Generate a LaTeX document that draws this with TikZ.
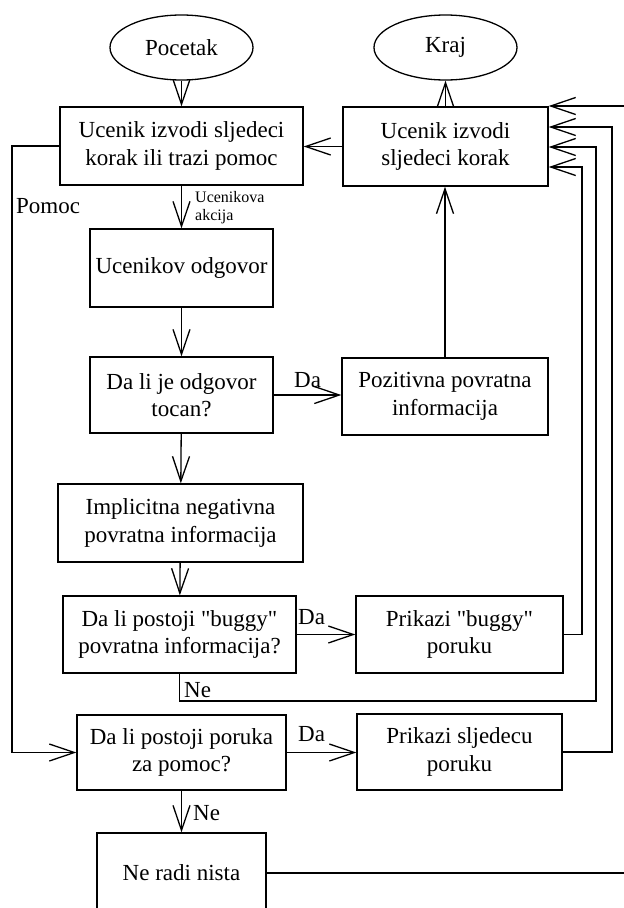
\documentclass[tikz,border=0pt]{standalone}
\usepackage{fontspec}
\setmainfont{Liberation Serif}[Ligatures=TeXOff]
\usetikzlibrary{shapes.geometric,arrows.meta}
\begin{document}
\begin{tikzpicture}[x=1pt,y=-1pt,
  every node/.style={font=\fontsize{23}{27.5}\selectfont},
  box/.style={draw, line width=1.3pt, inner sep=0pt, align=center},
  oval/.style={draw, ellipse, line width=1.3pt, inner sep=0pt, minimum width=143pt, minimum height=65pt},
  conn/.style={line width=1.3pt},
  arr/.style={conn, -{Straight Barb[length=25pt,width=17pt]}},
  lbl/.style={inner sep=0pt, anchor=base west},
  small/.style={font=\fontsize{16}{18.5}\selectfont},
]
\useasboundingbox (0,0) rectangle (624,908);
\clip (0,0) rectangle (624,908);

% nodes
\node[oval] (start) at (181.5,47.5) {Pocetak};
\node[oval] (kraj) at (445.5,47.5) {Kraj};
\node[box, minimum width=243pt, minimum height=78pt] (b1) at (181.5,146) {Ucenik izvodi sljedeci\\korak ili trazi pomoc};
\node[box, minimum width=205pt, minimum height=79pt] (b2) at (445.5,146.5) {Ucenik izvodi\\sljedeci korak};
\node[box, minimum width=183pt, minimum height=78pt] (odg) at (181.5,268) {Ucenikov odgovor};
\node[box, minimum width=183pt, minimum height=76pt] (toc) at (181.5,395) {Da li je odgovor\\tocan?};
\node[box, minimum width=206pt, minimum height=77pt] (poz) at (445,396.5) {Pozitivna povratna\\informacija};
\node[box, minimum width=245pt, minimum height=78pt] (impl) at (180.5,523) {Implicitna negativna\\povratna informacija};
\node[box, minimum width=233pt, minimum height=77pt] (bug) at (179.5,634.5) {Da li postoji "buggy"\\povratna informacija?};
\node[box, minimum width=207pt, minimum height=77pt] (pbug) at (459.5,634.5) {Prikazi "buggy"\\poruku};
\node[box, minimum width=209pt, minimum height=75pt] (por) at (181.5,752.5) {Da li postoji poruka\\za pomoc?};
\node[box, minimum width=205pt, minimum height=76pt] (psl) at (459.5,752) {Prikazi sljedecu\\poruku};
\node[box, minimum width=169pt, minimum height=80pt] (nista) at (181.5,873) {Ne radi nista};

% turning points
\coordinate (tne) at (596,701);
\coordinate (tbug) at (582,167);
\coordinate (tpsl) at (612,127);
\coordinate (tnista) at (630,106);
\coordinate (tleft) at (12,146);

% connectors
\draw[arr] (start) -- (b1);
\draw[arr] (b2) -- (kraj);
\draw[arr] (b2.west) -- (b1.east |- b2.west);
\draw[arr] (b1) -- (odg);
\draw[arr] (odg) -- (toc);
\draw[arr] (toc.east) -- (poz.west |- toc.east);
\draw[arr] (poz.north) -- (poz.north |- b2.south);
\draw[arr] (toc) -- (impl);
\draw[arr] (impl) -- (bug);
\draw[arr] (bug) -- (pbug);
\draw[arr] (por.east) -- (psl.west |- por.east);
\draw[arr] (por) -- (nista);
\draw[arr] (b1.west) -- (tleft) |- (por.west);
\draw[arr] (bug.south) |- (tne) |- (b2.east |- 0,147);
\draw[arr] (pbug.east) -| (tbug) -- (b2.east |- tbug);
\draw[arr] (psl.east) -| (tpsl) -- (b2.east |- tpsl);
\draw[arr] (nista.east) -| (tnista) -- (b2.east |- tnista);

% labels
\node[lbl] (lpomoc) at (16,213) {Pomoc};
\node[small, inner sep=0pt, anchor=north west, align=left] (lakc) at (195,191) {Ucenikova\\akcija};
\node[lbl] (lda1) at (294,387) {Da};
\node[lbl] (lda2) at (298,624) {Da};
\node[lbl] (lda3) at (298,741) {Da};
\node[lbl] (lne1) at (184,697) {Ne};
\node[lbl] (lne2) at (193,820) {Ne};
\end{tikzpicture}
\end{document}
